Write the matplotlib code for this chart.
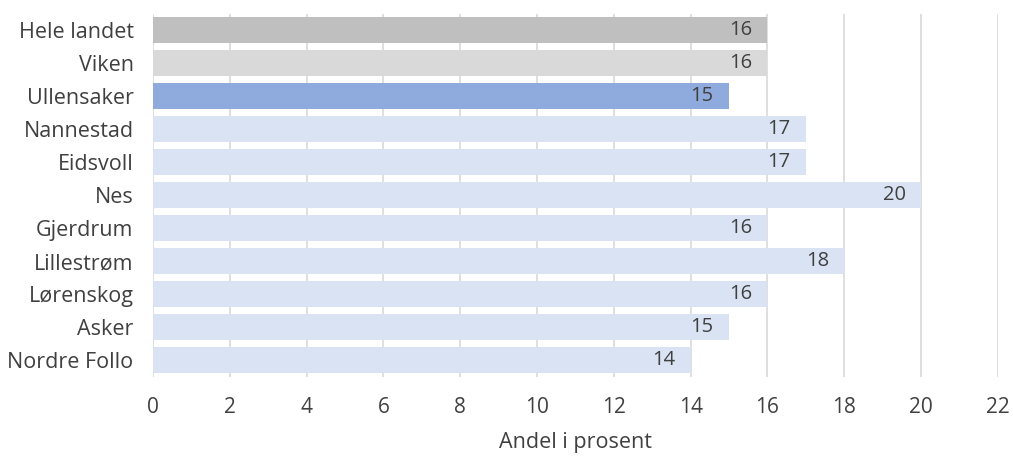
import matplotlib
matplotlib.use('Agg')
import matplotlib.pyplot as plt

# data (top to bottom as shown)
regions = ['Hele landet', 'Viken', 'Ullensaker', 'Nannestad', 'Eidsvoll', 'Nes',
           'Gjerdrum', 'Lillestrøm', 'Lørenskog', 'Asker', 'Nordre Follo']
values = [16, 16, 15, 17, 17, 20, 16, 18, 16, 15, 14]
colors = ['#BFBFBF', '#D9D9D9', '#8FAADC'] + ['#DAE3F3'] * 8
xticks = list(range(0, 23, 2))

plt.rcParams['font.family'] = ['Open Sans', 'DejaVu Sans']
text_color = '#404040'

fig = plt.figure(figsize=(10.13, 4.57), dpi=100)
ax = fig.add_axes([0.151, 0.176, 0.834, 0.794])

y = list(range(len(regions)))
ax.barh(y, values, height=0.79, color=colors, zorder=2)
ax.set_ylim(len(regions) - 0.5, -0.5)
ax.set_xlim(0, 22)

for yi, v in zip(y, values):
    ax.annotate(str(v), (v, yi), xytext=(-11, 0), textcoords='offset points',
                ha='right', va='center', fontsize=14.5, color=text_color, zorder=3)

ax.set_yticks(y)
ax.set_yticklabels(regions, fontsize=15.5, color=text_color)
ax.set_xticks(xticks)
ax.set_xticklabels([str(t) for t in xticks], fontsize=15, color=text_color)
ax.tick_params(axis='both', length=0)
ax.tick_params(axis='x', pad=15)
ax.tick_params(axis='y', pad=14)

ax.grid(axis='x', color='#D9D9D9', linewidth=1.2, zorder=1)
for s in ax.spines.values():
    s.set_visible(False)

ax.set_xlabel('Andel i prosent', fontsize=15.5, color=text_color, labelpad=10)

plt.savefig('out.png', dpi=100)
